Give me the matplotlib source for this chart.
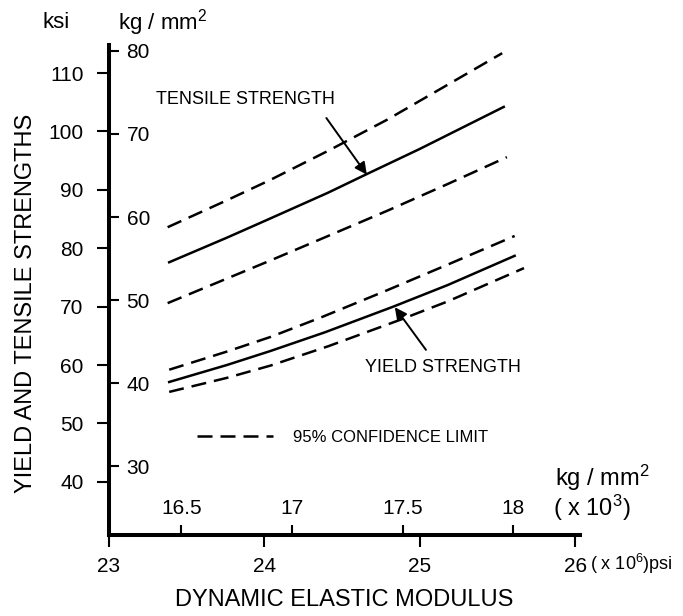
import matplotlib
matplotlib.use("Agg")
import matplotlib.pyplot as plt

plt.rcParams["font.family"] = ["Liberation Sans", "DejaVu Sans"]
plt.rcParams["mathtext.default"] = "regular"

# 1 kg/mm^2 = 1.42233 ksi, and 1e3 kg/mm^2 = 1.42233e6 psi -> same factor
KSI_PER_KG = 1.42233

# dynamic elastic modulus (x 10^6 psi) vs strength (ksi)
tensile_x = [23.39, 23.76, 24.04, 24.41, 24.66, 25.00, 25.54]
tensile = [77.6, 81.8, 85.1, 89.5, 92.7, 97.0, 104.2]
tensile_hi_x = [23.38, 23.76, 24.04, 24.42, 24.79, 25.18, 25.53]
tensile_hi = [83.6, 88.2, 91.7, 96.8, 102.0, 108.0, 113.4]
tensile_lo_x = [23.38, 23.76, 24.04, 24.42, 24.79, 25.18, 25.56]
tensile_lo = [70.6, 74.8, 77.9, 82.2, 86.4, 91.0, 95.6]

yield_x = [23.39, 23.76, 24.04, 24.39, 24.83, 25.18, 25.61]
yield_s = [57.1, 60.0, 62.4, 65.6, 70.0, 73.7, 78.7]
yield_hi_x = [23.39, 23.76, 24.04, 24.37, 24.79, 25.18, 25.61]
yield_hi = [59.2, 62.3, 64.8, 68.2, 72.8, 77.2, 82.1]
yield_lo_x = [23.39, 23.76, 24.04, 24.41, 24.88, 25.18, 25.67]
yield_lo = [55.4, 57.8, 59.9, 63.2, 67.8, 70.9, 76.6]

KSI_TICKS = [40, 50, 60, 70, 80, 90, 100, 110]
KG_TICKS = [30, 40, 50, 60, 70, 80]
PSI_TICKS = [23, 24, 25, 26]
KGX_TICKS = [16.5, 17, 17.5, 18]
KGX_LABELS = ["16.5", "17", "17.5", "18"]


def to_kg(v):
    return v / KSI_PER_KG


def from_kg(v):
    return v * KSI_PER_KG


W, H = 683, 616
fig = plt.figure(figsize=(W / 100, H / 100), dpi=100)
# axes box in pixels: left spine x=108.5, right end x=580, bottom y=535, top y=45
ax = fig.add_axes([108.5 / W, 1 - 535 / H, (580 - 108.5) / W, (535 - 45) / H])
ax.set_xlim(23, 26.03)
ax.set_ylim(30.9, 114.8)

for s in ["top", "right"]:
    ax.spines[s].set_visible(False)
for s in ["left", "bottom"]:
    ax.spines[s].set_linewidth(2.9)
    ax.spines[s].set_capstyle("projecting")

lw = 1.8
dash = (6, 3.2)
ax.plot(tensile_x, tensile, color="black", lw=lw)
ax.plot(tensile_hi_x, tensile_hi, color="black", lw=lw, dashes=dash,
        label="95% CONFIDENCE LIMIT")
ax.plot(tensile_lo_x, tensile_lo, color="black", lw=lw, dashes=dash)
ax.plot(yield_x, yield_s, color="black", lw=lw)
ax.plot(yield_hi_x, yield_hi, color="black", lw=lw, dashes=dash)
ax.plot(yield_lo_x, yield_lo, color="black", lw=lw, dashes=dash)

# outer scales: ksi and 10^6 psi
ax.set_yticks(KSI_TICKS)
ax.set_xticks(PSI_TICKS, labels=[str(t) for t in PSI_TICKS])
ax.tick_params(axis="y", direction="out", length=9, width=1.5,
               labelsize=15, pad=9)
ax.tick_params(axis="x", direction="out", length=8.5, width=1.5,
               labelsize=15, pad=7)

# inner scales: kg/mm^2 (ticks and labels inside the frame)
sy = ax.secondary_yaxis(0, functions=(to_kg, from_kg))
sy.set_alignment("right")
sy.set_yticks(KG_TICKS)
sy.tick_params(direction="out", length=7, width=1.5, labelsize=15, pad=6)
for s in sy.spines.values():
    s.set_visible(False)

sx = ax.secondary_xaxis(0, functions=(to_kg, from_kg))
sx.set_alignment("top")
sx.set_xticks(KGX_TICKS, labels=KGX_LABELS)
sx.tick_params(direction="out", length=7, width=1.5, labelsize=15, pad=5)
for s in sx.spines.values():
    s.set_visible(False)

ax.set_ylabel("YIELD AND TENSILE STRENGTHS", fontsize=17)
ax.yaxis.set_label_coords(-0.176, 0.472)
ax.yaxis.label.set_va("center")
ax.set_xlabel("DYNAMIC ELASTIC MODULUS", fontsize=17)
ax.xaxis.set_label_coords(0.5, -0.133)
ax.xaxis.label.set_va("center")

# unit labels
fig.text(56 / W, 1 - 23 / H, "ksi", ha="center", va="center", fontsize=16)
fig.text(118 / W, 1 - 23 / H, "kg / mm$^2$", ha="left", va="center",
         fontsize=16)
fig.text(555 / W, 1 - 478 / H, "kg / mm$^2$", ha="left", va="center",
         fontsize=17)
fig.text(553 / W, 1 - 508 / H, "( x 10$^3$)", ha="left", va="center",
         fontsize=17)
fig.text(590 / W, 1 - 564 / H, "( x 10$^6$)psi", ha="left", va="center",
         fontsize=13)

# curve labels with arrows
ax.text(23.305, 105.4, "TENSILE STRENGTH", fontsize=13, ha="left",
        va="center")
ax.annotate("", xy=(24.66, 92.6), xytext=(24.40, 102.3),
            arrowprops=dict(arrowstyle="-|>", color="black", lw=1.4,
                            mutation_scale=18, shrinkA=0, shrinkB=0))
ax.text(24.65, 59.5, "YIELD STRENGTH", fontsize=13, ha="left", va="center")
ax.annotate("", xy=(24.84, 69.9), xytext=(25.04, 62.6),
            arrowprops=dict(arrowstyle="-|>", color="black", lw=1.4,
                            mutation_scale=18, shrinkA=0, shrinkB=0))

ax.legend(loc="center left", bbox_to_anchor=(0.1877, 0.2), frameon=False,
          fontsize=12, handlelength=4.56, handletextpad=1.2,
          borderaxespad=0, borderpad=0)

fig.savefig("out.png", dpi=100)
